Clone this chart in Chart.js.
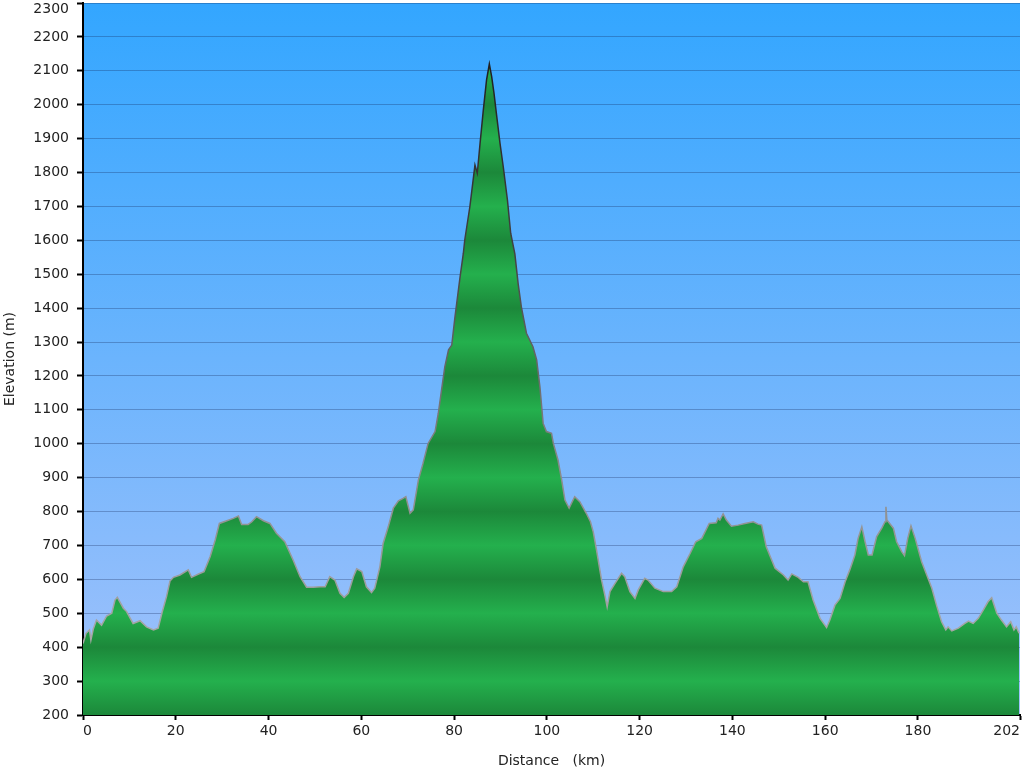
<!DOCTYPE html>
<html>
<head>
<meta charset="utf-8">
<title>Elevation profile</title>
<script src="https://cdn.jsdelivr.net/npm/chart.js@4/dist/chart.umd.min.js"></script>
<style>
  html, body { margin: 0; padding: 0; background: #fff; }
  #wrap { width: 1024px; height: 768px; }
</style>
</head>
<body>
<div id="wrap"><canvas id="chart-profile" width="1024" height="768"></canvas></div>
<script>
/* Elevation profile: distance (km) vs elevation (m). */

const KM = [
  0.0, 0.65, 1.4, 1.7, 2.2, 2.9, 4.0, 5.1, 6.2, 6.9, 7.4, 8.7, 9.4, 10.8, 12.3, 13.7,
  15.2, 16.2, 17.0, 18.0, 18.75, 19.5, 20.9, 22.7, 23.4, 24.9, 26.1, 27.4, 28.5, 29.4,
  31.0, 32.4, 33.5, 34.2, 35.6, 36.4, 37.4, 38.9, 40.3, 41.7, 43.5, 45.3, 46.8, 48.2,
  49.6, 51.1, 52.2, 53.2, 54.3, 55.4, 56.3, 57.2, 58.3, 59.0, 60.1, 61.1, 62.2, 62.9,
  64.0, 64.7, 65.8, 66.9, 68.0, 69.0, 69.6, 70.5, 71.2, 72.3, 73.3, 74.4, 75.9, 76.6,
  77.3, 78.0, 78.8, 79.5, 80.2, 80.9, 81.3, 82.0, 82.3, 83.4, 84.5, 85.0, 85.6, 86.3,
  87.0, 87.6, 88.1, 88.6, 89.2, 89.9, 90.6, 91.5, 92.2, 93.1, 93.8, 94.5, 95.6, 97.0,
  97.8, 98.5, 99.2, 99.9, 101.0, 101.4, 102.4, 103.2, 103.9, 104.8, 106.0, 107.1, 108.5,
  109.4, 110.0, 110.7, 111.8, 112.5, 113.0, 113.6, 114.7, 116.1, 116.8, 117.9, 119.0,
  119.7, 121.1, 121.8, 123.3, 125.1, 126.9, 128.0, 129.4, 130.9, 132.1, 133.4, 135.0,
  136.5, 136.9, 137.3, 138.0, 138.7, 139.8, 141.2, 142.7, 144.5, 145.5, 146.3, 147.3,
  149.2, 151.0, 152.0, 152.8, 154.2, 155.3, 156.3, 157.4, 158.9, 160.3, 161.0, 162.1,
  163.2, 164.3, 165.3, 166.4, 167.1, 167.9, 168.6, 169.3, 170.1, 171.1, 172.2, 172.9,
  173.1, 173.3, 174.7, 175.4, 176.5, 177.1, 177.8, 178.5, 179.4, 180.8, 181.9, 183.0,
  184.0, 185.1, 186.0, 186.5, 187.3, 188.7, 190.1, 190.9, 191.9, 193.0, 194.1, 195.1,
  195.9, 197.0, 198.0, 199.1, 200.0, 200.7, 201.2, 201.8,
];

const ELEV = [
  411, 441, 451, 421, 453, 480, 465, 492, 500, 539, 547, 515, 505, 470, 478, 460,
  451, 456, 500, 549, 595, 606, 613, 628, 606, 616, 623, 667, 716, 765,
  773, 780, 787, 762, 762, 770, 785, 773, 765, 736, 711, 657, 608, 577,
  577, 578, 578, 608, 598, 559, 547, 559, 608, 631, 623, 578, 561, 574,
  637, 706, 755, 810, 832, 839, 844, 795, 805, 893, 942, 1001, 1036, 1090,
  1159, 1227, 1277, 1291, 1375, 1450, 1493, 1562, 1601, 1699, 1822, 1798, 1886, 1984,
  2073, 2120, 2083, 2034, 1965, 1886, 1817, 1719, 1621, 1560, 1473, 1404, 1326, 1286,
  1247, 1168, 1060, 1036, 1031, 1001, 952, 893, 834, 810, 844, 829, 795,
  770, 740, 687, 598, 554, 519, 564, 588, 618, 608, 564, 544,
  569, 603, 598, 574, 564, 564, 578, 637, 677, 711, 721, 765,
  767, 780, 775, 793, 775, 757, 760, 765, 770, 763, 760, 696,
  633, 613, 598, 616, 606, 593, 593, 539, 485, 458, 480, 524,
  544, 593, 628, 672, 721, 755, 711, 672, 672, 726, 751, 770,
  814, 775, 751, 711, 682, 670, 721, 758, 721, 652, 613, 574,
  524, 475, 451, 460, 448, 456, 470, 477, 470, 485, 510, 534,
  546, 500, 480, 460, 475, 451, 460, 441,
];

const X_TICKS = [0, 20, 40, 60, 80, 100, 120, 140, 160, 180, 202];
const Y_MIN = 200;
const Y_MAX = 2300;
const Y_STEP = 100;

const FONT = { family: "'DejaVu Sans', Verdana, sans-serif", size: 14 };
const TEXT = '#222';

// Green terrain bands: dark at even hundreds, light at odd hundreds
const GREEN_DARK  = '#1c883a';
const GREEN_LIGHT = '#24b04d';

function terrainFill(context) {
  const chart = context.chart;
  const area = chart.chartArea;
  if (!area) return GREEN_LIGHT;
  const y = chart.scales.y;
  const top = y.getPixelForValue(Y_MAX);
  const bottom = y.getPixelForValue(Y_MIN);
  const g = chart.ctx.createLinearGradient(0, top, 0, bottom);
  for (let v = Y_MAX; v >= Y_MIN; v -= Y_STEP) {
    const stop = (y.getPixelForValue(v) - top) / (bottom - top);
    g.addColorStop(Math.min(1, Math.max(0, stop)), (v / Y_STEP) % 2 === 0 ? GREEN_DARK : GREEN_LIGHT);
  }
  return g;
}

// Outline gets darker towards the summit
function outlineColor(context) {
  const chart = context.chart;
  if (!chart.chartArea) return '#999';
  const y = chart.scales.y;
  const g = chart.ctx.createLinearGradient(0, y.getPixelForValue(2150), 0, y.getPixelForValue(400));
  g.addColorStop(0, '#1e1e1e');
  g.addColorStop(0.35, '#444');
  g.addColorStop(0.7, '#8a8a8a');
  g.addColorStop(1, '#a8a8a8');
  return g;
}

// Sky gradient behind the plot area
const skyPlugin = {
  id: 'sky',
  beforeDraw(chart) {
    const { ctx, chartArea: a } = chart;
    if (!a) return;
    const g = ctx.createLinearGradient(0, a.top, 0, a.bottom);
    g.addColorStop(0, '#33a6ff');
    g.addColorStop(1, '#a3c2fb');
    ctx.save();
    ctx.fillStyle = g;
    ctx.fillRect(a.left, a.top, a.right - a.left, a.bottom - a.top);
    ctx.restore();
  },
};

new Chart(document.getElementById('chart-profile'), {
  type: 'line',
  data: {
    datasets: [{
      label: 'Elevation',
      data: KM.map((k, i) => ({ x: k, y: ELEV[i] })),
      fill: 'start',
      backgroundColor: terrainFill,
      borderColor: outlineColor,
      borderWidth: 1.5,
      pointRadius: 0,
      tension: 0,
    }],
  },
  options: {
    responsive: false,
    animation: false,
    devicePixelRatio: 1,
    layout: { padding: { top: 0, right: 4, left: 0, bottom: 0 } },
    plugins: {
      legend: { display: false },
      tooltip: { enabled: false },
    },
    scales: {
      x: {
        type: 'linear',
        min: 0,
        max: 202,
        z: 1,
        border: { color: '#000', width: 2 },
        grid: { drawOnChartArea: false, tickColor: '#000', tickLength: 5, tickWidth: 2 },
        ticks: { align: 'inner', autoSkip: false, maxRotation: 0, color: TEXT, font: FONT, padding: 3 },
        afterBuildTicks: (s) => { s.ticks = X_TICKS.map((v) => ({ value: v })); },
        afterFit: (s) => { s.height = 53; },
        title: {
          display: true,
          text: 'Distance   (km)',
          color: TEXT,
          font: { ...FONT, lineHeight: 1 },
          padding: { top: 0, bottom: 0 },
        },
      },
      y: {
        min: Y_MIN,
        max: Y_MAX,
        z: 1,
        border: { color: '#000', width: 2 },
        grid: { color: 'rgba(20,40,90,0.3)', lineWidth: 1, tickColor: '#000', tickLength: 6, tickWidth: 2 },
        ticks: {
          stepSize: Y_STEP,
          color: TEXT,
          padding: 8,
          // top label sits a little lower so it is not cut off
          font: (c) => (c.tick && c.tick.value === Y_MAX ? { ...FONT, lineHeight: 0.9 } : FONT),
          callback: (v) => (v === Y_MAX ? ['', String(v)] : String(v)),
        },
        afterFit: (s) => {
          s.width = 83;
          s.paddingTop = 3;
          s.paddingBottom = 0;
        },
        title: { display: true, text: 'Elevation (m)', color: TEXT, font: FONT, padding: 2 },
      },
    },
  },
  plugins: [skyPlugin],
});
</script>
</body>
</html>
